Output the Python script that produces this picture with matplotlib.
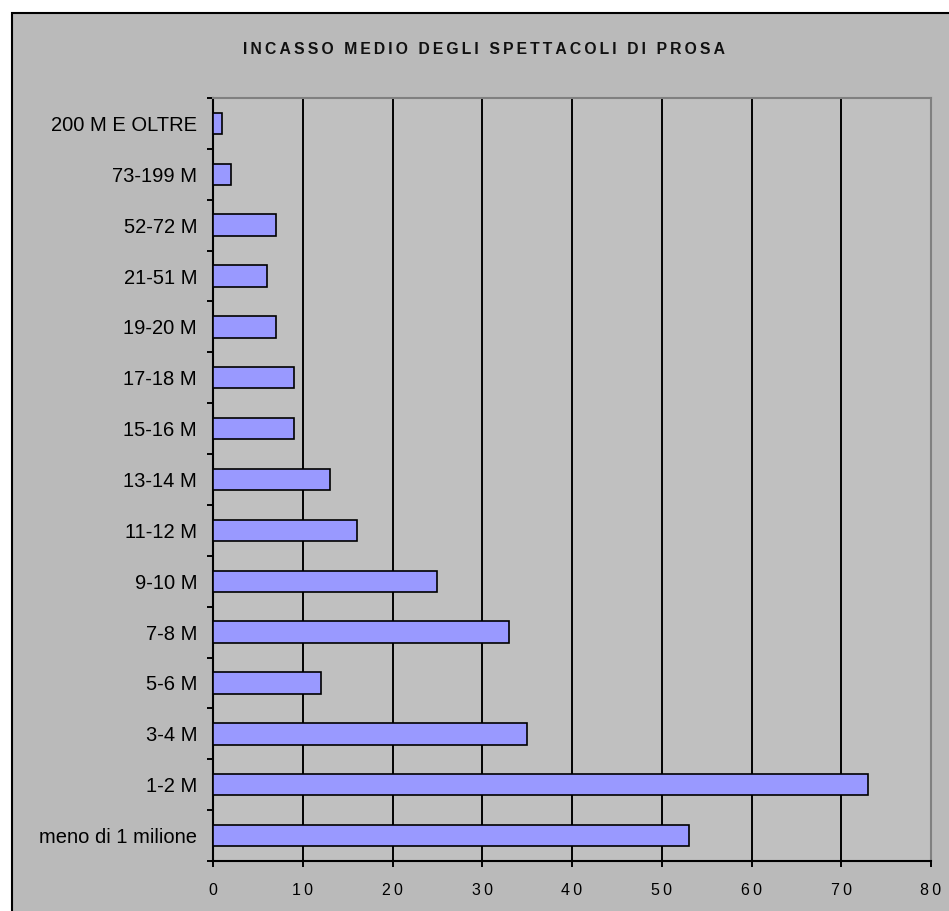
import matplotlib
matplotlib.use('Agg')
import numpy as np
import matplotlib.pyplot as plt
from matplotlib.patches import Rectangle
from matplotlib.ticker import FixedLocator

categories = ["200 M E OLTRE", "73-199 M", "52-72 M", "21-51 M", "19-20 M",
              "17-18 M", "15-16 M", "13-14 M", "11-12 M", "9-10 M",
              "7-8 M", "5-6 M", "3-4 M", "1-2 M", "meno di 1 milione"]
values = [1, 2, 7, 6, 7, 9, 9, 13, 16, 25, 33, 12, 35, 73, 53]
x_ticks = [0, 10, 20, 30, 40, 50, 60, 70, 80]
title = "INCASSO MEDIO DEGLI SPETTACOLI DI PROSA"

plt.rcParams['font.family'] = ['Liberation Sans', 'DejaVu Sans']

W, H = 949, 911
fig = plt.figure(figsize=(W / 100, H / 100), dpi=100, facecolor='white')

# chart area (cropped on right/bottom)
fig.patches.append(Rectangle((11.5 / W, -0.05), 1.1, (H - 13.5) / H + 0.05,
                             transform=fig.transFigure, facecolor='#bababa',
                             edgecolor='black', linewidth=1.5, zorder=-5))

ax = fig.add_axes([213 / W, 1 - 861 / H, (931 - 213) / W, (861 - 98) / H])
ax.set_zorder(2)
ax.set_facecolor('#c0c0c0')

n = len(categories)
ypos = np.arange(n)[::-1]
ax.barh(ypos, values, height=0.42, color='#9999ff', edgecolor='black',
        linewidth=1.2, zorder=3)

ax.set_xlim(x_ticks[0], x_ticks[-1])
ax.set_ylim(-0.5, n - 0.5)

ax.set_yticks(ypos)
ax.set_yticklabels(categories, fontsize=14.5)
ax.tick_params(axis='y', which='major', length=0, pad=11.5)
ax.yaxis.set_minor_locator(FixedLocator(np.arange(-0.5, n, 1.0)))
ax.tick_params(axis='y', which='minor', length=4.3, width=1.4,
               direction='out', color='black')

ax.set_xticks(x_ticks)
ax.set_xticklabels(['\u2009'.join(str(t)) for t in x_ticks], fontsize=11.5)
ax.tick_params(axis='x', which='major', length=4.3, width=1.4,
               direction='out', color='black', pad=11.5)

ax.xaxis.grid(True, color='black', linewidth=1.4, zorder=1)
ax.set_axisbelow(True)

for s in ['left', 'bottom']:
    ax.spines[s].set_color('black')
    ax.spines[s].set_linewidth(1.5)
for s in ['top', 'right']:
    ax.spines[s].set_color('#808080')
    ax.spines[s].set_linewidth(1.5)

fig.text(484 / W, 1 - 49 / H, '\u2009'.join(title), ha='center', va='center',
         fontsize=11.3, fontweight='bold', color='#111111')

fig.savefig('out.png', dpi=100, facecolor=fig.get_facecolor())
